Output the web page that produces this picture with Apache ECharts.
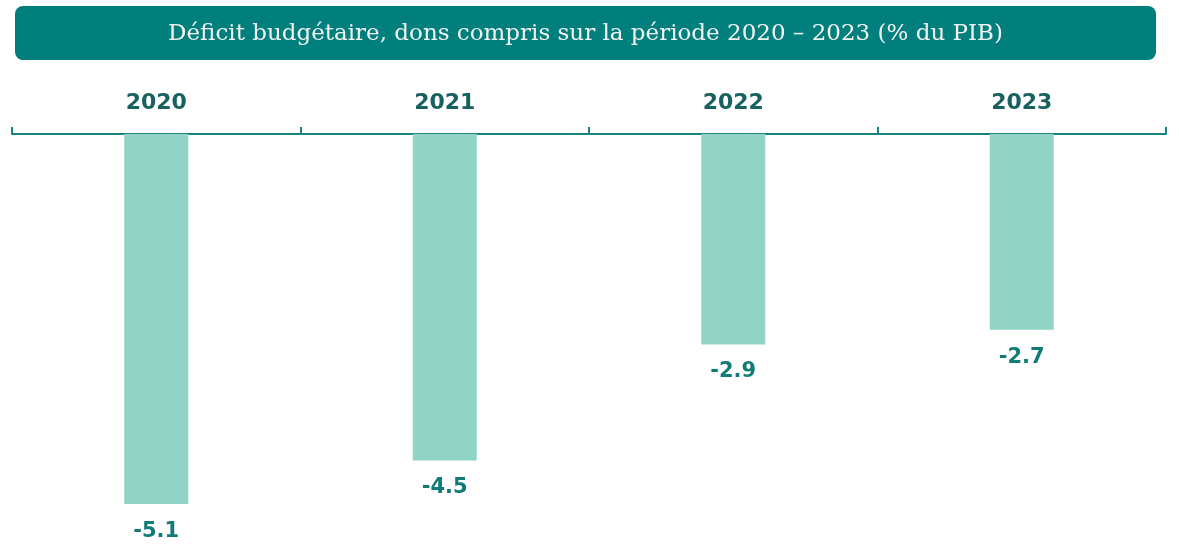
<!DOCTYPE html>
<html>
<head>
<meta charset="utf-8">
<script src="https://cdn.jsdelivr.net/npm/echarts@6/dist/echarts.min.js"></script>
<style>
  html, body { margin: 0; padding: 0; background: #fff; }
  #chart { width: 1179px; height: 549px; }
</style>
</head>
<body>
<div id="chart"></div>
<script>
  // données
  var years = ['2020', '2021', '2022', '2023'];
  var deficit = [-5.1, -4.5, -2.9, -2.7];
  var titleText = 'Déficit budgétaire, dons compris sur la période 2020 – 2023 (% du PIB)';

  var chart = echarts.init(document.getElementById('chart'));

  chart.setOption({
    backgroundColor: '#ffffff',
    animation: false,
    graphic: [
      {
        type: 'rect',
        left: 15,
        top: 6,
        shape: { width: 1141, height: 54, r: 8 },
        style: { fill: '#007f7c' }
      },
      {
        type: 'text',
        left: 168,
        top: 23,
        style: {
          text: titleText,
          fill: '#f2f2f2',
          font: '23px "DejaVu Serif"'
        }
      }
    ],
    grid: {
      left: 12,
      right: 13,
      top: 134,
      bottom: 16,
      containLabel: false
    },
    xAxis: {
      type: 'category',
      position: 'top',
      data: years,
      axisLine: { lineStyle: { color: '#18827f', width: 2 } },
      axisTick: { show: true, length: 7, lineStyle: { color: '#18827f', width: 2 } },
      axisLabel: {
        margin: 20,
        color: '#17615e',
        fontFamily: 'DejaVu Sans',
        fontWeight: 'bold',
        fontSize: 22
      }
    },
    yAxis: {
      type: 'value',
      min: -5.5,
      max: 0,
      show: false,
      splitLine: { show: false }
    },
    series: [
      {
        type: 'bar',
        data: deficit,
        barWidth: 64,
        itemStyle: { color: '#91d4c5' },
        label: {
          show: true,
          position: 'bottom',
          distance: 17,
          color: '#0f7c78',
          fontFamily: 'DejaVu Sans',
          fontWeight: 'bold',
          fontSize: 21
        }
      }
    ]
  });
</script>
</body>
</html>
